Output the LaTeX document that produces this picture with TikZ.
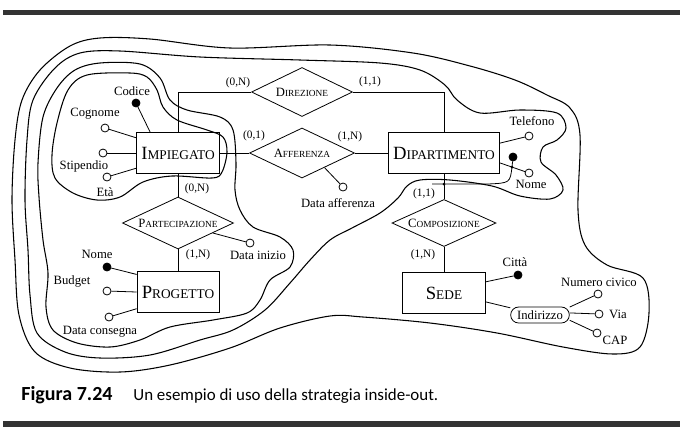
\documentclass[tikz,border=0pt]{standalone}
\usepackage{fontspec}
\setmainfont{Liberation Serif}
\newfontfamily\capfont{Carlito}
\usetikzlibrary{shapes.geometric}
\newcommand{\entname}[2]{{\fontsize{14}{14}\selectfont #1}{\fontsize{10}{10}\selectfont #2}}
\newcommand{\relname}[2]{{\fontsize{9.5}{9.5}\selectfont #1}{\fontsize{7}{7}\selectfont #2}}
\tikzset{
  entity/.style={draw, minimum height=31pt, inner sep=1pt},
  relation/.style={draw, diamond, aspect=2, inner sep=0.5pt},
  attr/.style={draw, circle, fill=white, minimum size=6pt, inner sep=0pt},
  keyattr/.style={attr, fill=black},
  lab/.style={font=\fontsize{9.5}{9.5}\selectfont, inner sep=0pt},
  card/.style={font=\fontsize{8.5}{8.5}\selectfont, inner sep=0pt},
  contour/.style={line width=0.8pt},
}
\begin{document}
\begin{tikzpicture}[x=0.75pt, y=-0.75pt, inner sep=1pt, line width=0.6pt]
  \useasboundingbox (0,0) rectangle (682,437);
  \fill[black!80] (3,10) rectangle (680,15);
  \fill[black!80] (3,421) rectangle (680,427);

  \node[entity, minimum width=62pt] (imp) at (178,153) {\entname{I}{MPIEGATO}};
  \node[entity, minimum width=83pt] (dip) at (444,153) {\entname{D}{IPARTIMENTO}};
  \node[entity, minimum width=61.5pt] (prog) at (178,292) {\entname{P}{ROGETTO}};
  \node[entity, minimum width=62pt] (sede) at (444,293) {\entname{S}{EDE}};

  \node[relation, minimum width=75.75pt, minimum height=36.75pt] (dir) at (302,92) {\relname{D}{IREZIONE}};
  \node[relation, minimum width=78.75pt, minimum height=37.5pt] (aff) at (302,153) {\relname{A}{FFERENZA}};
  \node[relation, minimum width=83.25pt, minimum height=39pt] (par) at (178,223) {\relname{P}{ARTECIPAZIONE}};
  \node[relation, minimum width=78pt, minimum height=35.25pt] (comp) at (444,223) {\relname{C}{OMPOSIZIONE}};

  \draw (imp.north) |- (dir.west);
  \draw (dir.east) -| (dip.north);
  \draw (imp.east) -- (aff.west);
  \draw (aff.east) -- (dip.west);
  \draw (imp.south) -- (par.north);
  \draw (par.south) -- (prog.north);
  \draw (dip.south) -- (comp.north);
  \draw (comp.south) -- (sede.north);

  \node[card] (c1) at (238,83) {(0,N)};
  \node[card] (c2) at (370,82) {(1,1)};
  \node[card] (c3) at (254,136) {(0,1)};
  \node[card] (c4) at (350,137) {(1,N)};
  \node[card] (c5) at (197,189) {(0,N)};
  \node[card] (c6) at (198,255) {(1,N)};
  \node[card] (c7) at (424,194) {(1,1)};
  \node[card] (c8) at (423,255) {(1,N)};

  \node[keyattr] (codice) at (136,103) {};
  \node[lab] (codicel) at (132,91) {Codice};
  \node[attr] (cognome) at (105,128) {};
  \node[lab] (cognomel) at (95,114) {Cognome};
  \node[attr] (stipendio) at (103,153) {};
  \node[lab] (stipendiol) at (84,166) {Stipendio};
  \node[attr] (eta) at (107,177) {};
  \node[lab] (etal) at (105,192) {Età};
  \draw (codice) -- (imp.143);
  \draw (cognome) -- (imp.160);
  \draw (stipendio) -- (imp.west);
  \draw (eta) -- (imp.200);

  \node[keyattr] (pnome) at (107,267) {};
  \node[lab] (pnomel) at (97,254) {Nome};
  \node[attr] (budget) at (107,291) {};
  \node[lab] (budgetl) at (72,281) {Budget};
  \node[attr] (consegna) at (109,317) {};
  \node[lab] (consegnal) at (100,332) {Data consegna};
  \draw (pnome) -- (prog.157);
  \draw (budget) -- (prog.west);
  \draw (consegna) -- (prog.202);

  \node[attr] (inizio) at (250,243) {};
  \node[lab] (iniziol) at (258,255) {Data inizio};
  \draw (par.-16) -- (inizio);
  \node[attr] (dataaff) at (343,187) {};
  \node[lab] (dataaffl) at (338,203) {Data afferenza};
  \draw (aff.-33) -- (dataaff);

  \node[attr] (telefono) at (529,136) {};
  \node[lab] (telefonol) at (532,121) {Telefono};
  \node[attr] (dnome) at (529,173) {};
  \node[lab] (dnomel) at (531,184) {Nome};
  \draw (dip.10) -- (telefono);
  \draw (dip.-10) -- (dnome);
  \node[keyattr] (dipkey) at (513,157) {};
  \coordinate (dipj) at (512,167);
  \coordinate (dipx) at (444,184);
  \coordinate (dipe) at (432,184);
  \draw (dipkey) -- (dipj) .. controls (510,183) .. (488,184) -- (dipe);
  \fill (dipj) circle (1.5);
  \fill (dipx) circle (1.5);

  \node[keyattr] (citta) at (518,275) {};
  \node[lab] (cittal) at (515,262) {Città};
  \draw (sede.15) -- (citta);
  \node[draw, rounded corners=6pt, minimum width=44pt, minimum height=12pt, inner sep=0.5pt,
        font=\fontsize{9.5}{9.5}\selectfont] (ind) at (540,315) {Indirizzo};
  \draw (sede.-12) -- (ind);
  \node[attr] (civico) at (598,294) {};
  \node[lab] (civicol) at (599,282) {Numero civico};
  \node[attr] (via) at (599,314) {};
  \node[lab] (vial) at (618,314) {Via};
  \node[attr] (cap) at (597,333) {};
  \node[lab] (capl) at (615,340) {CAP};
  \draw (ind.15) -- (civico);
  \draw (ind.4) -- (via);
  \draw (ind.-10) -- (cap);

  \draw[contour] plot[smooth cycle, tension=0.55] coordinates {(130,73) (147,77) (157,90) (163,107) (177,120) (207,130) (223,137) (227,152) (222,172) (212,178) (172,176) (143,182) (120,197) (97,200) (73,193) (55,178) (52,155) (57,123) (68,90) (87,75)};
  \draw[contour] plot[smooth cycle, tension=0.55] coordinates {(100,63) (140,64) (160,78) (170,100) (187,110) (220,117) (233,130) (236,163) (235,190) (240,210) (253,227) (280,237) (293,250) (290,267) (270,280) (260,300) (247,313) (213,320) (170,327) (140,340) (110,347) (77,343) (53,330) (46,307) (48,273) (43,240) (39,197) (38,163) (43,117) (57,88) (75,70)};
  \draw[contour] plot[smooth cycle, tension=0.55] coordinates {(55,68) (80,53) (120,51) (200,57) (300,60) (380,63) (420,70) (445,85) (457,100) (480,113) (520,110) (557,113) (566,128) (557,140) (543,147) (541,162) (556,175) (563,190) (550,199) (520,196) (492,186) (450,180) (420,180) (407,186) (398,198) (380,213) (352,228) (330,240) (310,260) (290,283) (265,310) (233,330) (200,340) (150,355) (100,358) (65,352) (37,333) (30,295) (28,250) (25,200) (27,140) (33,100)};
  \draw[contour] plot[smooth cycle, tension=0.55] coordinates {(40,70) (70,46) (100,38) (150,39) (230,48) (330,45) (413,53) (470,66) (515,80) (547,95) (570,108) (580,135) (578,210) (585,245) (607,265) (643,278) (649,313) (640,347) (613,354) (563,347) (497,333) (430,323) (363,317) (330,316) (280,328) (230,348) (170,365) (120,372) (70,368) (35,352) (19,315) (15,260) (12,200) (15,140) (22,100)};

  \node[anchor=base west, inner sep=0pt, font=\capfont\bfseries\fontsize{15}{15}\selectfont] (capnum) at (21,400) {Figura 7.24};
  \node[anchor=base west, inner sep=0pt, font=\capfont\fontsize{12.7}{12.7}\selectfont] (captext) at (133,400) {Un esempio di uso della strategia inside-out.};
\end{tikzpicture}
\end{document}
